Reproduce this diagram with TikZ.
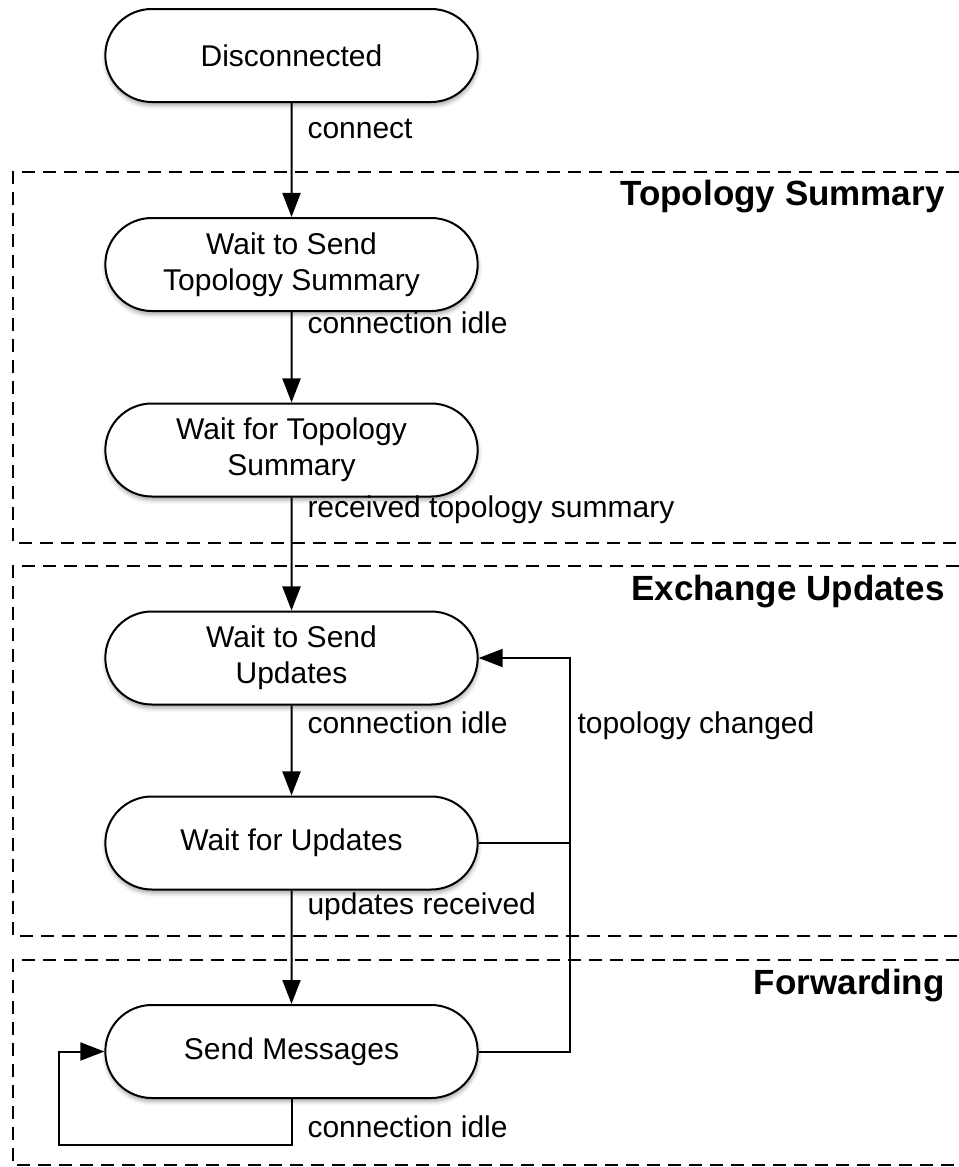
\documentclass[tikz,border=0pt]{standalone}
\usepackage{fontspec}
\setmainfont{Liberation Sans}
\usetikzlibrary{shapes.misc,arrows.meta,shadows.blur}

\begin{document}
\begin{tikzpicture}[x=0.4pt,y=-0.4pt]
    \tikzstyle{state}=[rounded rectangle, draw, line width=0.8pt, fill=white,
        minimum width=155.6pt, minimum height=37.2pt, align=center,
        font=\fontsize{12}{14.5}\selectfont,
        blur shadow={shadow xshift=0.2pt, shadow yshift=-1.4pt,
            shadow blur radius=1.6pt, shadow opacity=35}]
    \tikzstyle{edgelabel}=[anchor=base west, inner sep=0pt, font=\fontsize{12}{14}\selectfont]
    \tikzstyle{phase}=[anchor=base east, inner sep=0pt, font=\fontsize{14}{17}\selectfont\bfseries]
    \tikzstyle{trans}=[line width=0.8pt, -{Triangle[length=9.6pt,width=7.2pt]}]
    \tikzstyle{region}=[line width=1pt, dash pattern=on 5.2pt off 3.2pt]
    \useasboundingbox (0,0) rectangle (959,1167);

    % phase regions
    \draw[region] (959,172) -- (13,172) -- (13,543) -- (959,543);
    \draw[region] (959,566) -- (13,566) -- (13,936) -- (959,936);
    \draw[region] (959,960) -- (13,960) -- (13,1165) -- (959,1165);
    \node[phase] (ptopo) at (945,205) {Topology Summary};
    \node[phase] (pexch) at (945,600) {Exchange Updates};
    \node[phase] (pfwd) at (945,994) {Forwarding};

    % states
    \node[state] (disc) at (291.5,55.5) {Disconnected};
    \node[state] (wsts) at (291.5,264.5) {Wait to Send\\Topology Summary};
    \node[state] (wfts) at (291.5,450) {Wait for Topology\\Summary};
    \node[state] (wtsu) at (291.5,658) {Wait to Send\\Updates};
    \node[state] (wfu) at (291.5,843) {Wait for Updates};
    \node[state] (sm) at (291.5,1051.5) {Send Messages};

    % transitions
    \draw[trans] (disc) -- (wsts);
    \draw[trans] (wsts) -- (wfts);
    \draw[trans] (wfts) -- (wtsu);
    \draw[trans] (wtsu) -- (wfu);
    \draw[trans] (wfu) -- (sm);
    \draw[line width=0.8pt] (wfu.east) -- ++(91,0);
    \draw[trans] (sm.east) -- ++(91,0) |- (wtsu.east);
    \draw[trans] (sm.south) -- ++(0,46) -| ([xshift=-18pt]sm.west) -- (sm.west);

    % transition labels
    \node[edgelabel] (lconn) at (307,138) {connect};
    \node[edgelabel] (lidle1) at (307,333) {connection idle};
    \node[edgelabel] (lrecv) at (307,517) {received topology summary};
    \node[edgelabel] (lidle2) at (307,733) {connection idle};
    \node[edgelabel] (lchg) at (577,733) {topology changed};
    \node[edgelabel] (lupd) at (307,914) {updates received};
    \node[edgelabel] (lidle3) at (307,1137) {connection idle};
\end{tikzpicture}
\end{document}
